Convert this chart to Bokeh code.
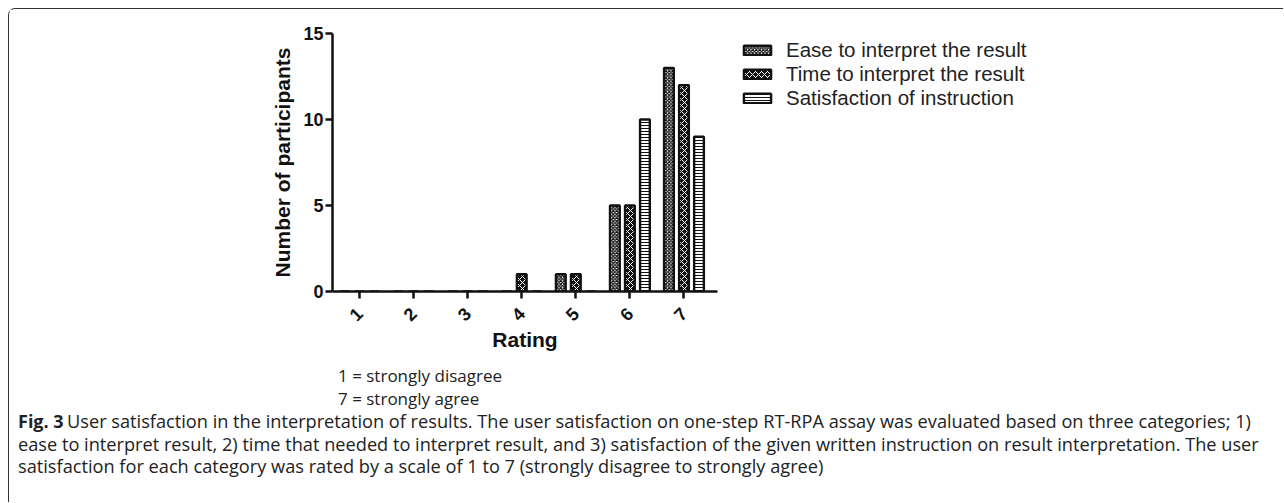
import math
from bokeh.plotting import figure
from bokeh.layouts import column, row
from bokeh.models import (Range1d, FixedTicker, Label, Legend, LegendItem,
                          ColumnDataSource)
from bokeh.transform import dodge
from bokeh.embed import file_html
from bokeh.resources import INLINE

# ---------------- data ----------------
ratings = [1, 2, 3, 4, 5, 6, 7]
rating_labels = ["1", "2", "3", "4", "5", "6", "7"]
ease_counts = [0, 0, 0, 0, 1, 5, 13]
time_counts = [0, 0, 0, 1, 1, 5, 12]
instruction_counts = [0, 0, 0, 0, 0, 10, 9]
series_names = ["Ease to interpret the result",
                "Time to interpret the result",
                "Satisfaction of instruction"]
y_ticks = [0, 5, 10, 15]
x_title = "Rating"
y_title = "Number of participants"
notes = ["1 = strongly disagree", "7 = strongly agree"]
caption_bold = "Fig. 3"
caption_lines = [
    "User satisfaction in the interpretation of results. The user satisfaction on one-step RT-RPA assay was evaluated based on three categories; 1)",
    "ease to interpret result, 2) time that needed to interpret result, and 3) satisfaction of the given written instruction on result interpretation. The user",
    "satisfaction for each category was rated by a scale of 1 to 7 (strongly disagree to strongly agree)",
]

# ---------------- geometry (page pixels) ----------------
O = 9.5            # content origin after margin + border
FULL_W = 1274
A_H = 354
B_H = 139
P_W = 718          # chart figure width
L_W = FULL_W - P_W # legend figure width

AX_FONT = "Liberation Sans"
TXT_FONT = "Open Sans"
INK = "#111111"

styles = [
    dict(fill_color="white", hatch_pattern="diagonal_cross", hatch_color=INK,
         hatch_scale=3.5, hatch_weight=1.3),
    dict(fill_color=INK, hatch_pattern="diagonal_cross", hatch_color="white",
         hatch_scale=6, hatch_weight=1.0),
    dict(fill_color="white", hatch_pattern="horizontal_line", hatch_color=INK,
         hatch_scale=3, hatch_weight=1.0),
]

src = ColumnDataSource(dict(x=ratings, ease=ease_counts, time=time_counts,
                            instr=instruction_counts))
cols = ["ease", "time", "instr"]
BW = 0.18
OFF = 0.278
offsets = [-OFF, 0.0, OFF]

# ---------------- chart figure ----------------
p = figure(width=P_W, height=A_H, output_backend="svg", toolbar_location=None,
           x_range=Range1d(0.5, 7.62), y_range=Range1d(0, 15),
           min_border_left=323, min_border_right=10,
           min_border_top=24, min_border_bottom=72, frame_align=False)
p.grid.visible = False
p.outline_line_color = None

for ax in (p.xaxis[0], p.yaxis[0]):
    ax.axis_line_width = 2.5
    ax.axis_line_color = INK
    ax.major_tick_line_width = 2.5
    ax.major_tick_line_color = INK
    ax.major_tick_out = 7
    ax.major_tick_in = 0
    ax.minor_tick_line_color = None
    ax.major_label_text_font = AX_FONT
    ax.major_label_text_font_style = "bold"
    ax.major_label_text_font_size = "18px"
    ax.major_label_text_color = INK
    ax.axis_label_text_font = AX_FONT
    ax.axis_label_text_font_style = "bold"
    ax.axis_label_text_font_size = "21px"
    ax.axis_label_text_color = INK

p.xaxis.ticker = FixedTicker(ticks=ratings)
p.xaxis.major_label_overrides = {r: l for r, l in zip(ratings, rating_labels)}
p.xaxis.major_label_orientation = math.pi / 4
p.xaxis.major_label_standoff = 12
p.xaxis.axis_label = x_title
p.xaxis.axis_label_standoff = -2

p.yaxis.ticker = FixedTicker(ticks=y_ticks)
p.yaxis.major_label_standoff = 2
p.yaxis.axis_label = y_title
p.yaxis.axis_label_standoff = 6

for col, off, st in zip(cols, offsets, styles):
    p.vbar(x=dodge("x", off), top=col, width=BW, source=src,
           line_color=INK, line_width=2.4, **st)

# ---------------- legend figure (right of chart) ----------------
# the same series again as hidden renderers: they only give the legend
# swatches their look, nothing is drawn here
lf = figure(width=L_W, height=A_H, output_backend="svg", toolbar_location=None,
            x_range=Range1d(-20, -19), y_range=Range1d(0, 1),
            x_axis_type=None, y_axis_type=None,
            min_border_left=0, min_border_right=0,
            min_border_top=0, min_border_bottom=0, frame_align=False)
lf.outline_line_color = None
lf.grid.visible = False
leg_renderers = [lf.vbar(x=dodge("x", off), top=col, width=BW, source=src,
                         line_color=INK, line_width=2.4, visible=False, **st)
                 for col, off, st in zip(cols, offsets, styles)]
legend = Legend(items=[LegendItem(label=n, renderers=[r]) for n, r in
                       zip(series_names, leg_renderers)],
                location=(13, 253), orientation="vertical",
                glyph_width=34, glyph_height=12, label_height=22, spacing=0,
                padding=0, margin=0, border_line_color=None,
                background_fill_alpha=0, label_text_font=AX_FONT,
                label_text_font_size="20.5px", label_text_color="#222222",
                label_standoff=12, inactive_fill_alpha=0)
lf.add_layout(legend)

# ---------------- notes + caption figure ----------------
top_b = O + A_H
q = figure(width=FULL_W, height=B_H, output_backend="svg", toolbar_location=None,
           x_range=Range1d(O, O + FULL_W), y_range=Range1d(top_b + B_H, top_b),
           x_axis_type=None, y_axis_type=None,
           min_border_left=0, min_border_right=0,
           min_border_top=0, min_border_bottom=0, frame_align=False)
q.outline_line_color = None
q.grid.visible = False

for i, t in enumerate(notes):
    q.add_layout(Label(x=338, y=375 + 23 * i, text=t, text_font=TXT_FONT,
                       text_font_size="17px", text_baseline="middle",
                       text_align="left", text_color="#222222"))

cap_y = [421, 444, 466]
q.add_layout(Label(x=18, y=cap_y[0], text=caption_bold, text_font=TXT_FONT,
                   text_font_style="bold", text_font_size="18px",
                   text_baseline="middle", text_align="left",
                   text_color="#222222"))
for i, t in enumerate(caption_lines):
    x0 = 67 if i == 0 else 18
    q.add_layout(Label(x=x0, y=cap_y[i], text=t, text_font=TXT_FONT,
                       text_font_size="18.2px", text_baseline="middle",
                       text_align="left", text_color="#222222"))

layout = column(row(p, lf, spacing=0), q, spacing=0, margin=(8, 0, 0, 8),
                styles={"border-left": "1.5px solid #333333",
                        "border-top": "1.5px solid #333333",
                        "border-top-left-radius": "7px"})

open("out.html", "w").write(file_html(layout, INLINE))
